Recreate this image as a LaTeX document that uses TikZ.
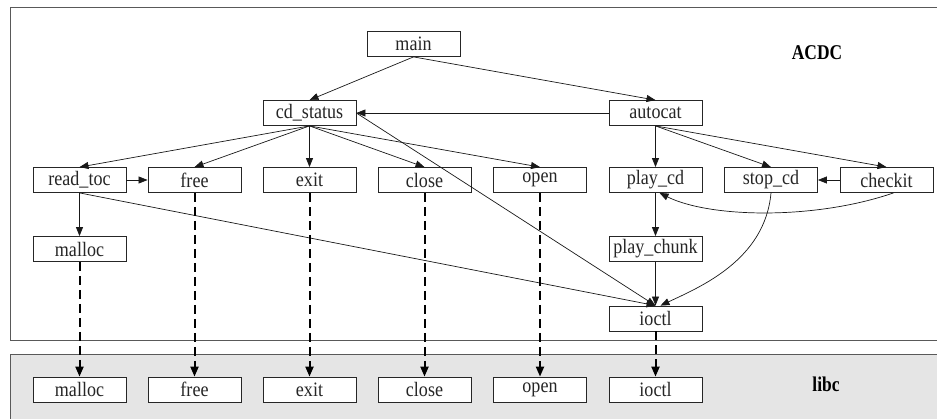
\documentclass[tikz,border=0pt]{standalone}
\usepackage{fontspec}
\setmainfont{Liberation Serif}
\newfontfamily\nodefont[FakeStretch=0.88]{Liberation Serif}
\newfontfamily\lblfont[FakeStretch=0.83]{Liberation Serif}
\usetikzlibrary{arrows.meta}
\begin{document}
\begin{tikzpicture}[x=1pt,y=-1pt,
  fn/.style={draw=black!85, line width=0.8pt, fill=white, minimum width=93pt, minimum height=25pt, inner sep=0pt,
     font=\nodefont\fontsize{20.5}{22}\selectfont, text=black!85},
  call/.style={-{Triangle[length=9pt,width=7pt]}, line width=0.7pt, draw=black!90},
  lib/.style={-{Triangle[length=10pt,width=8pt]}, line width=2pt, dash pattern=on 9pt off 5pt},
  frame/.style={draw=black!65, line width=1pt},
  lbl/.style={font=\lblfont\bfseries\fontsize{21}{23}\selectfont, inner sep=0pt}]
\useasboundingbox (0,0) rectangle (937,418);
% frames
\fill[black!10] (10,354) rectangle (945,425);
\draw[frame] (945,354) -- (10,354) -- (10,425);
\draw[frame] (945,7) -- (10,7) -- (10,340) -- (945,340);
\node[lbl] (acdc) at (817,53) {ACDC};
\node[lbl] (libc) at (826,384) {libc};
% ACDC nodes
\node[fn] (main) at (413.5,44) {main};
\node[fn] (cdstatus) at (309.5,113) {cd\_status};
\node[fn] (autocat) at (655.5,113) {autocat};
\node[fn] (readtoc) at (79.5,180) {read\_toc};
\node[fn] (free) at (194.5,180) {free};
\node[fn] (exit) at (309.5,180) {exit};
\node[fn] (close) at (424.5,180) {close};
\node[fn] (open) at (540,180) {open};
\node[fn] (playcd) at (655.5,180) {play\_cd};
\node[fn] (stopcd) at (771,180) {stop\_cd};
\node[fn] (checkit) at (886.5,180) {checkit};
\node[fn] (malloc) at (79.5,249) {malloc};
\node[fn] (playchunk) at (655.5,249) {play\_chunk};
\node[fn] (ioctl) at (655.5,318.5) {ioctl};
% libc nodes
\node[fn] (lmalloc) at (79.5,389.5) {malloc};
\node[fn] (lfree) at (194.5,389.5) {free};
\node[fn] (lexit) at (309.5,389.5) {exit};
\node[fn] (lclose) at (424.5,389.5) {close};
\node[fn] (lopen) at (540,389.5) {open};
\node[fn] (lioctl) at (655.5,389.5) {ioctl};
% calls
\draw[call] (main.south) -- (cdstatus.north);
\draw[call] (main.south) -- (autocat.north);
\draw[call] (autocat.west) -- (cdstatus.east);
\draw[call] (cdstatus.south) -- (readtoc.north);
\draw[call] (cdstatus.south) -- (free.north);
\draw[call] (cdstatus.south) -- (exit.north);
\draw[call] (cdstatus.south) -- (close.north);
\draw[call] (cdstatus.south) -- (open.north);
\draw[call] (cdstatus.east) -- (ioctl.north);
\draw[call] (autocat.south) -- (playcd.north);
\draw[call] (autocat.south) -- (stopcd.north);
\draw[call] (autocat.south) -- (checkit.north);
\draw[call] (readtoc.east) -- (free.west);
\draw[call] (checkit.west) -- (stopcd.east);
\draw[call] (readtoc.south) -- (malloc.north);
\draw[call] (readtoc.south) -- (ioctl.north);
\draw[call] (playcd.south) -- (playchunk.north);
\draw[call] (playchunk.south) -- (ioctl.north);
\draw[call] ([xshift=7pt]checkit.south) .. controls (815,220) and (710,218) .. ([xshift=4pt]playcd.south);
\draw[call] (stopcd.south) .. controls (765,260) and (700,287) .. ([xshift=5pt]ioctl.north);
% library links
\draw[lib] (malloc.south) -- (lmalloc.north);
\draw[lib] (free.south) -- (lfree.north);
\draw[lib] (exit.south) -- (lexit.north);
\draw[lib] (close.south) -- (lclose.north);
\draw[lib] (open.south) -- (lopen.north);
\draw[lib] (ioctl.south) -- (lioctl.north);
\end{tikzpicture}
\end{document}
